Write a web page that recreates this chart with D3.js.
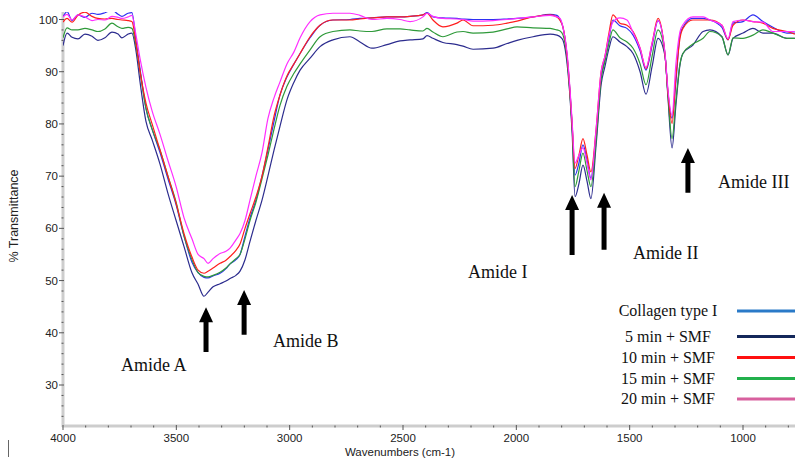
<!DOCTYPE html>
<html lang="en">
<head>
    <title>FTIR - Collagen type I + SMF</title>
    <meta charset="UTF-8">
    <script src="https://cdn.jsdelivr.net/npm/d3@7"></script>
    <style>
        body {
            margin: 0;
            background: #fff;
        }

        svg text {
            font-family: "Liberation Sans Narrow", "Liberation Sans", Arial, sans-serif;
            fill: #222;
        }

        .tick-label {
            font-size: 11.5px
        }

        .serif {
            font-family: "Liberation Serif", "Times New Roman", serif !important;
            fill: #111;
        }
    </style>
</head>
<body>
<div id="chart"></div>
<script type="text/javascript">
    // wavenumbers (cm-1), shared by all spectra
    var wavenumbers = [4000, 3982, 3960, 3934, 3903, 3872, 3846, 3815, 3784, 3757,
        3740, 3713, 3696, 3678, 3660, 3634, 3607, 3572, 3537, 3501,
        3466, 3431, 3404, 3378, 3360, 3338, 3307, 3281, 3263, 3237,
        3219, 3197, 3175, 3149, 3122, 3096, 3069, 3043, 3012, 2981,
        2954, 2910, 2866, 2809, 2734, 2690, 2637, 2571, 2513, 2469,
        2412, 2394, 2368, 2324, 2262, 2235, 2191, 2103, 2041, 1997,
        1926, 1851, 1821, 1807, 1794, 1776, 1763, 1754, 1741, 1724,
        1706, 1688, 1671, 1648, 1626, 1609, 1591, 1574, 1543, 1512,
        1485, 1454, 1428, 1401, 1375, 1344, 1331, 1313, 1296, 1278,
        1265, 1221, 1176, 1146, 1093, 1066, 1044, 1000, 956, 912,
        868, 806, 771];

    // % transmittance
    var collagen = [100.5, 101.5, 99.8, 100.9, 100.4, 101.2, 101.0, 101.3, 101.8, 101.0,
        100.6, 101.2, 101.3, 96, 90.5, 83, 79, 74.5, 69.5, 64.5,
        58.5, 53.5, 51.5, 50.6, 50.5, 50.9, 51.4, 52.3, 53.2, 54,
        55, 58.5, 62, 65.4, 70, 75, 80.5, 85.5, 89, 91.5,
        93.5, 96.5, 98.9, 99.9, 100.0, 100.2, 100.3, 100.5, 100.5, 100.6,
        100.9, 101.3, 100.5, 100.3, 100.2, 100.1, 100.0, 100.0, 100.1, 100.2,
        100.5, 101.0, 100.8, 100, 98.5, 93, 86, 80, 70.2, 72.5,
        76, 73, 69.6, 78, 89, 92.5, 96.5, 99.9, 98.8, 98.3,
        97.0, 94, 90.3, 95, 99.8, 93.2, 86, 81.1, 88, 97,
        98.5, 100.2, 100.2, 99.9, 98.5, 96.1, 99.3, 99.6, 100.9, 99.6,
        98.5, 97.4, 97.4];

    var smf5 = [95.0, 97.4, 96.6, 96.3, 97.2, 96.8, 96.0, 96.5, 97.6, 97.2,
        96.5, 97.2, 97.4, 94, 88, 80.5, 77, 72.3, 66.7, 61.5,
        56.5, 51.5, 49.3, 47.0, 47.8, 48.8, 49.4, 49.9, 50.4, 51.0,
        51.8, 54, 57.5, 61.5, 65.4, 70, 75, 79.5, 84.6, 88,
        90.3, 92.6, 94.8, 96.1, 96.7, 95.7, 94.5, 95.2, 95.9, 96.1,
        96.3, 96.9, 96.4, 95.6, 95.2, 94.9, 94.3, 94.5, 95.4, 96.0,
        96.7, 97.2, 97.0, 96.7, 96, 91.5, 85, 78.5, 66.1, 68.5,
        72.1, 69, 65.7, 76, 87.5, 91, 94.5, 96.7, 95.7, 94.8,
        93.5, 90, 85.7, 91, 96.4, 93.0, 85, 75.4, 83.6, 91.3,
        93.5, 95.1, 97.7, 98.0, 96.7, 93.2, 96.4, 97.4, 98.3, 97.4,
        97.4, 96.4, 96.4];

    var smf10 = [99.5, 100.2, 99.5, 100.8, 101.4, 100.6, 100.2, 100.1, 100.2, 100.0,
        99.9, 99.8, 99.6, 95.5, 90, 84, 80, 75, 70, 64.8,
        59, 54.5, 52, 51.4, 51.8, 52.4, 53.3, 53.9, 54.6, 55.8,
        57, 60, 62.8, 66, 70, 75.5, 81.5, 85.5, 89.2, 91.5,
        93.5, 96.7, 98.9, 99.9, 99.9, 100.1, 100.3, 100.5, 100.5, 100.6,
        100.9, 101.2, 99.9, 98.6, 99.3, 99.9, 98.8, 98.9, 99.3, 99.7,
        100.5, 100.9, 100.5, 99.8, 98.5, 93, 86, 80, 71.5, 74,
        77.2, 74, 70.8, 79, 90, 93, 97.5, 100.9, 99.3, 98.9,
        97.7, 94.5, 90.6, 95.5, 100.2, 93.2, 86, 80.1, 89, 96.4,
        98.3, 99.9, 99.9, 99.9, 98.9, 96.1, 98.9, 99.9, 99.6, 99.3,
        98.3, 97.7, 97.2];

    var smf15 = [96.5, 98.4, 98.0, 98.0, 98.3, 98.0, 97.7, 98.2, 99.3, 98.6,
        98.3, 98.5, 98.3, 95, 90, 83, 79, 75, 70, 65,
        58.5, 54, 51.5, 50.8, 50.7, 51.0, 51.6, 52.4, 53.2, 54.2,
        55, 58, 61.5, 65, 69.5, 74, 79, 83.5, 87.2, 89.7,
        91.5, 94.2, 96.7, 97.7, 98.0, 97.8, 97.7, 98.2, 98.2, 98.0,
        97.8, 98.3, 97.6, 96.7, 97.6, 97.7, 97.4, 97.6, 98.2, 98.6,
        98.4, 98.3, 98.0, 97.8, 97, 92.5, 85.5, 79.5, 68, 71,
        74.4, 71, 68, 77, 88.5, 92, 95.5, 98.0, 96.5, 95.7,
        94.5, 91.5, 87.5, 93, 98, 93.2, 85.5, 77.2, 84.5, 91.5,
        93.5, 95.3, 96.4, 97.7, 96.7, 93.2, 96.5, 96.4, 97.0, 98.0,
        97.4, 96.4, 96.4];

    var smf20 = [100.5, 101.0, 99.9, 100.9, 100.5, 99.8, 100.0, 99.9, 100.6, 100.4,
        100.2, 100.5, 100.8, 97, 92.5, 87, 82.5, 78, 73, 68,
        62, 58, 55, 54.2, 53.3, 54.2, 55.2, 55.6, 56.2, 57.8,
        59, 61.5, 65.4, 70, 74.5, 81, 85, 88, 91.5, 93.8,
        96.5, 99.6, 100.9, 101.2, 101.2, 100.8, 100.0, 100.2, 100.0, 99.6,
        100.5, 101.2, 100.6, 100.2, 100.1, 100.0, 99.7, 99.8, 100.0, 100.2,
        100.5, 100.8, 100.5, 100.2, 98.5, 93.5, 86.5, 80.5, 72.5, 74,
        75.4, 72.5, 69.3, 79, 90, 93, 97, 99.5, 100.3, 99.9,
        97.5, 94.5, 90.8, 95.5, 99.8, 93.5, 86.5, 81.7, 91.5, 97.7,
        99, 100.5, 100.5, 99.9, 98.9, 96.3, 99.6, 99.9, 99.6, 99.5,
        97.7, 97.7, 97.7];

    var seriesNames = ['Collagen type I', '5 min + SMF', '10 min + SMF', '15 min + SMF', '20 min + SMF'];
    var seriesValues = [collagen, smf5, smf10, smf15, smf20];
    var lineColors = ['#2f2ff2', '#2c2c8e', '#ff1e1e', '#2f9a3a', '#ff2eff'];
    var legendColors = ['#2a7ac8', '#14285a', '#ff1010', '#22b04c', '#d8609e'];
    var drawOrder = [0, 1, 3, 2, 4];

    var xMajorTicks = [4000, 3500, 3000, 2500, 2000, 1500, 1000];
    var yMajorTicks = [30, 40, 50, 60, 70, 80, 90, 100];

    // band annotations (label anchor + arrows), in data units
    var bandLabels = [
        {text: 'Amide A', wn: 3744, t: 32.7},
        {text: 'Amide B', wn: 3074, t: 37.3},
        {text: 'Amide I', wn: 2213, t: 50.5},
        {text: 'Amide II', wn: 1485, t: 54.1},
        {text: 'Amide III', wn: 1110, t: 67.7}
    ];
    var arrows = [
        {wn: 3369, from: 36.3, to: 44.9},
        {wn: 3201, from: 39.6, to: 48.2},
        {wn: 1754, from: 54.9, to: 66.4},
        {wn: 1613, from: 55.9, to: 66.8},
        {wn: 1243, from: 66.8, to: 75.4}
    ];

    var W = 795, H = 461;
    var plotLeft = 63, plotRight = 795, plotTop = 12, plotBottom = 426;

    var x = d3.scaleLinear().domain([4000, 1000]).range([63, 743]);
    var y = d3.scaleLinear().domain([30, 100]).range([385, 19.5]);

    var svg = d3.select('#chart').append('svg')
        .attr('width', W)
        .attr('height', H);

    svg.append('defs').append('clipPath')
        .attr('id', 'plot-clip')
        .append('rect')
        .attr('x', plotLeft)
        .attr('y', plotTop)
        .attr('width', plotRight - plotLeft)
        .attr('height', plotBottom - plotTop);

    // axis bars
    svg.append('line')
        .attr('x1', plotLeft).attr('x2', plotLeft)
        .attr('y1', plotTop).attr('y2', plotBottom + 1)
        .attr('stroke', '#cdcdcd').attr('stroke-width', 3);
    svg.append('line')
        .attr('x1', plotLeft - 1).attr('x2', plotRight)
        .attr('y1', plotBottom).attr('y2', plotBottom)
        .attr('stroke', '#cdcdcd').attr('stroke-width', 3);

    // y ticks
    var yMinor = d3.range(24, 101, 2).filter(d => yMajorTicks.indexOf(d) < 0);
    svg.append('g').selectAll('line.minor')
        .data(yMinor).enter().append('line')
        .attr('x1', plotLeft - 1.5).attr('x2', plotLeft + 0.5)
        .attr('y1', d => y(d)).attr('y2', d => y(d))
        .attr('stroke', '#555');
    svg.append('g').selectAll('line.major')
        .data(yMajorTicks).enter().append('line')
        .attr('x1', plotLeft - 4).attr('x2', plotLeft + 1)
        .attr('y1', d => y(d)).attr('y2', d => y(d))
        .attr('stroke', '#555');
    svg.append('g').selectAll('text')
        .data(yMajorTicks).enter().append('text')
        .attr('class', 'tick-label')
        .attr('x', plotLeft - 5)
        .attr('y', d => y(d))
        .attr('dy', '0.35em')
        .attr('text-anchor', 'end')
        .text(d => d);

    // x ticks
    var xMinor = d3.range(3900, 770, -100).filter(d => xMajorTicks.indexOf(d) < 0);
    svg.append('g').selectAll('line')
        .data(xMinor).enter().append('line')
        .attr('x1', d => x(d)).attr('x2', d => x(d))
        .attr('y1', plotBottom - 0.5).attr('y2', plotBottom + 1.5)
        .attr('stroke', '#555');
    svg.append('g').selectAll('line')
        .data(xMajorTicks).enter().append('line')
        .attr('x1', d => x(d)).attr('x2', d => x(d))
        .attr('y1', plotBottom - 1).attr('y2', plotBottom + 4)
        .attr('stroke', '#555');
    svg.append('g').selectAll('text')
        .data(xMajorTicks).enter().append('text')
        .attr('class', 'tick-label')
        .attr('x', d => x(d))
        .attr('y', 442)
        .attr('text-anchor', 'middle')
        .text(d => d);

    svg.append('text')
        .attr('x', 400).attr('y', 456)
        .attr('text-anchor', 'middle')
        .style('font-size', '11.5px')
        .text('Wavenumbers (cm-1)');

    svg.append('text')
        .attr('transform', 'translate(18,216) rotate(-90)')
        .attr('text-anchor', 'middle')
        .style('font-family', '"Liberation Sans", Arial, sans-serif')
        .style('font-size', '12.5px')
        .text('% Transmittance');

    // stray mark at bottom left of the figure
    svg.append('line')
        .attr('x1', 8.5).attr('x2', 8.5)
        .attr('y1', 440).attr('y2', 457)
        .attr('stroke', '#666');

    // spectra
    var line = d3.line()
        .x((d, i) => x(wavenumbers[i]))
        .y(d => y(d))
        .curve(d3.curveMonotoneX);

    svg.append('g')
        .attr('clip-path', 'url(#plot-clip)')
        .selectAll('path')
        .data(drawOrder).enter().append('path')
        .attr('d', k => line(seriesValues[k]))
        .attr('fill', 'none')
        .attr('stroke', k => lineColors[k])
        .attr('stroke-width', 1.2)
        .attr('stroke-linejoin', 'round');

    // arrows
    svg.append('g').selectAll('path')
        .data(arrows).enter().append('path')
        .attr('fill', '#000')
        .attr('d', function (a) {
            var cx = x(a.wn), tip = y(a.to), base = y(a.from);
            var hw = 7, hh = 15, sw = 2.5;
            return 'M' + cx + ',' + tip +
                'L' + (cx + hw) + ',' + (tip + hh) +
                'L' + (cx + sw) + ',' + (tip + hh) +
                'L' + (cx + sw) + ',' + base +
                'L' + (cx - sw) + ',' + base +
                'L' + (cx - sw) + ',' + (tip + hh) +
                'L' + (cx - hw) + ',' + (tip + hh) + 'Z';
        });

    svg.append('g').selectAll('text')
        .data(bandLabels).enter().append('text')
        .attr('class', 'serif')
        .attr('x', d => x(d.wn))
        .attr('y', d => y(d.t))
        .style('font-size', '18px')
        .text(d => d.text);

    // legend
    var legend = svg.append('g').selectAll('g')
        .data(seriesNames).enter().append('g')
        .attr('transform', (d, i) => 'translate(0,' + [311, 336.5, 357.5, 378.5, 399][i] + ')');
    legend.append('text')
        .attr('class', 'serif')
        .attr('x', 668)
        .attr('y', 5)
        .attr('text-anchor', 'middle')
        .style('font-size', '16px')
        .text(d => d);
    legend.append('line')
        .attr('x1', 737).attr('x2', 795)
        .attr('y1', 0).attr('y2', 0)
        .attr('stroke', (d, i) => legendColors[i])
        .attr('stroke-width', 3);
</script>
</body>
</html>
